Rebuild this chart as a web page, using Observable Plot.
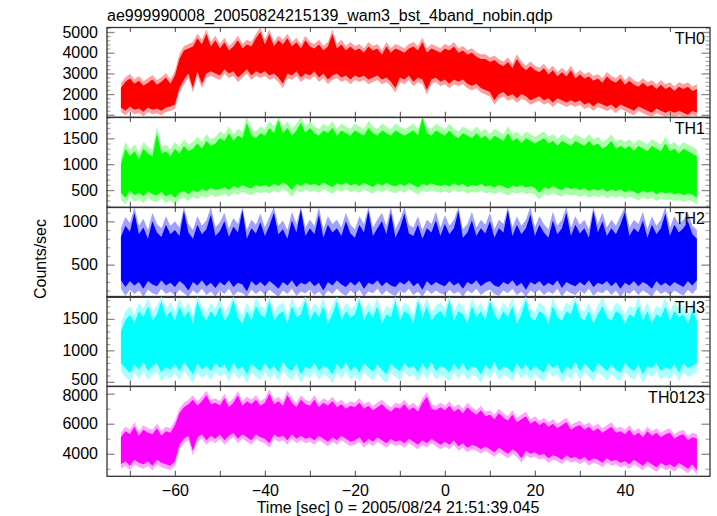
<!DOCTYPE html>
<html><head><meta charset="utf-8">
<script src="https://cdn.jsdelivr.net/npm/d3@7"></script>
<script src="https://cdn.jsdelivr.net/npm/@observablehq/plot@0.6"></script>
<style>
body{margin:0;background:#fff;font-family:"Liberation Sans",Arial,Helvetica,sans-serif;}
#chart{position:relative;width:717px;height:516px;overflow:hidden;background:#fff;}
.abs{position:absolute;white-space:nowrap;color:#000;font-size:16px;line-height:16px;}
#chart svg{position:absolute;left:0;overflow:visible;}
</style></head><body><div id="chart"></div>
<script>
const title = "ae999990008_20050824215139_wam3_bst_4band_nobin.qdp";
const xLabel = "Time [sec] 0 = 2005/08/24 21:51:39.045";
const yLabel = "Counts/sec";
const panelNames = ["TH0", "TH1", "TH2", "TH3", "TH0123"];
const colors = ["#ff0000", "#00ff00", "#0000ff", "#00ffff", "#ff00ff"];
const errColors = ["#ffa0a0", "#a8ffa8", "#a0a0ff", "#a8ffff", "#ffa4ff"];
const yDomains = [[904, 5241], [177, 1912], [128, 1166], [437, 1863], [2533, 8513]];
const yMajor = [[1000, 2000, 3000, 4000, 5000], [500, 1000, 1500], [500, 1000], [500, 1000, 1500], [4000, 6000, 8000]];
const yMinorStep = [200, 100, 100, 100, 1000];
const binErr = [220, 130, 100, 140, 300];
const xDomain = [-75.2, 58.8];
const xTicks = [-70, -60, -50, -40, -30, -20, -10, 0, 10, 20, 30, 40, 50];
const xLabels = [-60, -40, -20, 0, 20, 40];
const tStart = -72, tStep = 1;

const th0Hi = [2300,2600,2750,2500,2650,2400,2550,2700,2450,2600,2800,2500,
 2900,3700,4100,4200,4300,4700,4400,4900,4300,4600,
 4200,4500,4100,4300,4600,4200,4400,4300,4700,5000,
 4400,4900,4300,4600,4400,4700,4300,4500,4200,4600,
 4300,4200,4400,4100,4300,4900,4200,4400,4100,4300,
 4100,4200,4000,4300,4100,4200,3900,4300,4000,4200,
 4100,4000,4200,4300,4100,4500,4000,4200,4100,4000,
 4200,4100,4300,4000,4100,3900,4000,3800,3700,3700,
 3550,3650,3450,3350,3550,3250,3700,3350,3150,3350,
 3150,3050,3250,2950,3150,2850,3050,2850,3150,2750,
 2950,2750,2850,2650,2750,2550,2850,2650,2550,2750,
 2450,2650,2450,2350,2550,2350,2450,2250,2450,2250,
 2350,2150,2350,2250,2350,2150,2250];
const th0Lo = [1350,1200,1400,1250,1300,1150,1350,1250,1300,1200,1350,1400,
 1500,2300,2700,3000,2300,3100,2500,3000,3100,3000,
 2900,3200,3000,3100,2800,3000,3200,2900,3100,3000,
 3100,2900,3000,2800,2500,3000,2900,3100,2800,3000,
 2900,3100,2800,3000,2700,2900,3000,2800,2900,2700,
 2900,2800,2900,2700,2800,2900,2700,2800,2600,2300,
 2800,2700,2900,2600,2800,2700,2200,2700,2800,2600,
 2700,2500,2700,2600,2700,2500,2400,2500,2300,2200,
 2100,1700,2000,2100,1900,2000,1800,2000,1900,1700,
 1800,1900,1700,1800,1600,1800,1700,1600,1700,1600,
 1700,1500,1600,1400,1600,1500,1400,1500,1300,1500,
 1400,1300,1200,1400,1300,1200,1100,1300,1200,1100,
 1200,1100,1200,1100,1000,1200,1100];

const th1Hi = [1000,1300,1150,1250,1100,1300,1200,1150,1600,1200,1250,1150,
 1300,1200,1350,1250,1300,1400,1300,1450,1350,1400,
 1500,1450,1600,1450,1550,1500,1800,1550,1500,1600,
 1550,1700,1600,1850,1600,1700,1550,1650,1800,1600,
 1700,1600,1550,1650,1600,1700,1550,1650,1600,1550,
 1650,1600,1550,1700,1600,1550,1650,1600,1550,1650,
 1600,1550,1600,1650,1550,1900,1600,1550,1650,1600,
 1550,1650,1550,1500,1600,1550,1500,1600,1500,1550,
 1450,1550,1500,1450,1600,1450,1500,1400,1500,1450,
 1400,1450,1500,1400,1450,1350,1450,1400,1350,1450,
 1400,1350,1450,1350,1400,1300,1350,1450,1300,1350,
 1300,1350,1250,1350,1300,1250,1350,1300,1250,1400,
 1250,1300,1200,1300,1250,1200,1150];
const th1Lo = [450,350,500,400,450,380,480,420,400,470,380,430,
 350,450,480,420,500,460,520,480,540,500,
 520,560,500,580,540,600,560,530,600,570,
 600,560,620,580,650,600,500,620,580,640,
 600,620,580,650,600,560,630,600,650,590,
 620,580,640,600,560,630,590,640,600,570,
 620,580,640,600,550,620,590,630,600,580,
 610,570,630,590,620,560,600,580,620,570,
 590,550,600,570,530,590,560,600,550,580,
 540,450,560,520,580,530,500,560,520,540,
 500,540,480,520,490,530,470,510,480,520,
 460,500,470,430,490,450,480,420,470,440,
 460,420,450,400,440,410,350];

const th2Hi = [820,950,880,1100,850,930,800,1000,870,820,960,850,
 900,830,1120,870,800,960,850,910,1080,830,
 890,1000,820,940,870,1130,800,920,860,990,
 830,950,1100,850,910,800,1010,870,1140,830,
 920,850,1080,810,960,870,920,830,1000,860,
 810,960,870,1120,830,920,1000,850,1100,810,
 920,1090,860,830,960,800,920,870,1010,830,
 970,850,920,1120,810,870,1010,830,920,860,
 1000,810,920,870,1130,830,960,850,920,1080,
 830,960,870,810,1010,850,920,1100,830,960,
 860,920,810,1120,870,1000,830,920,850,960,
 1110,830,920,870,1010,810,960,850,920,1090,
 830,960,870,920,1000,850,800];
const th2Lo = [320,240,310,260,300,220,310,270,250,320,260,290,
 240,310,270,200,300,260,320,250,290,230,
 300,260,320,240,290,270,190,310,260,300,
 250,310,270,220,300,260,320,240,290,270,
 310,250,290,200,300,260,320,270,240,300,
 260,310,220,290,270,320,250,300,260,240,
 300,270,320,250,290,210,310,260,300,270,
 250,310,260,290,220,300,270,320,250,290,
 310,260,240,300,270,320,250,290,210,300,
 270,310,250,290,260,320,230,300,270,250,
 300,260,320,240,290,270,310,250,300,220,
 290,260,310,250,300,270,220,310,260,290,
 250,300,270,240,310,260,320];

const th3Hi = [1300,1480,1560,1430,1620,1520,1700,1470,1570,1780,1520,1620,
 1470,1700,1520,1620,1420,1780,1570,1470,1620,1520,
 1700,1470,1570,1800,1520,1420,1620,1470,1700,1570,
 1520,1780,1470,1570,1620,1420,1700,1520,1570,1800,
 1470,1620,1520,1700,1420,1570,1780,1470,1620,1520,
 1570,1800,1470,1620,1520,1700,1420,1570,1520,1780,
 1470,1620,1570,1420,1780,1520,1700,1470,1570,1620,
 1520,1800,1470,1620,1570,1420,1700,1520,1620,1470,
 1780,1570,1470,1620,1520,1700,1420,1570,1800,1520,
 1470,1620,1570,1420,1700,1520,1470,1620,1570,1780,
 1520,1470,1620,1420,1570,1700,1520,1470,1620,1570,
 1420,1570,1520,1700,1470,1620,1420,1570,1520,1700,
 1470,1620,1520,1570,1420,1620,1470];
const th3Lo = [800,720,640,780,690,820,670,750,800,650,740,690,
 780,670,820,720,620,790,700,760,670,800,
 720,780,650,810,690,750,620,790,720,670,
 800,690,760,650,820,720,670,790,620,750,
 700,800,670,760,720,620,790,690,820,670,
 750,650,800,720,670,780,690,620,790,720,
 670,800,720,760,650,790,690,820,670,750,
 720,650,790,690,800,670,750,720,620,780,
 690,820,670,750,720,650,800,690,780,670,
 760,690,650,800,720,780,620,750,690,820,
 670,790,720,650,800,740,670,780,690,650,
 800,720,670,780,620,760,720,800,670,740,
 690,780,650,800,720,750,800];

const th0123Hi = [5100,5500,5300,5800,5200,5600,5400,5300,5700,5200,5500,5400,
 5900,6700,7100,7300,7600,7200,7500,7900,7300,7400,
 7200,7700,7100,7400,7900,7200,7500,7300,7600,7200,
 7400,8000,7300,7500,7200,7900,7400,7100,7600,7300,
 7200,7600,7100,7400,7200,7500,7100,7300,7000,7200,
 7100,7400,7000,7200,6900,7100,7300,7000,6800,7100,
 7000,7300,6900,7100,6800,7400,7800,7000,6900,7100,
 6900,7200,6800,7000,6700,7100,6800,6600,6900,6500,
 6600,6300,6700,6400,6200,6600,6100,6300,6500,6000,
 6200,5900,6100,5800,6000,5700,5900,6100,5600,5800,
 5900,5600,5800,5500,5700,5400,5600,5800,5400,5500,
 5300,5600,5200,5400,5100,5500,5200,5400,5100,5300,
 5400,5000,5200,5300,4900,5100,5000];
const th0123Lo = [3300,3500,3200,3600,3400,3300,3500,3200,3600,3400,3300,3200,
 3500,4600,5000,5200,4200,5100,5300,4900,5200,5000,
 5300,4900,5200,5400,5000,5300,5100,4900,5300,5100,
 5000,4700,5300,5100,5200,4900,5300,5000,5200,5000,
 5100,4900,5200,5000,4800,5100,4900,5200,5000,4800,
 4900,5100,4700,5000,4800,5100,4900,4700,5000,4800,
 4900,4700,5000,4800,4600,4900,4700,5000,4800,4600,
 4800,4600,4900,4500,4700,4400,4600,4500,4300,4500,
 4300,4100,4400,4200,4000,4300,4100,3700,4200,4000,
 4100,3900,4000,3700,3900,3800,3600,3900,3700,3800,
 3600,3800,3500,3700,3600,3400,3700,3500,3600,3400,
 3500,3300,3600,3400,3200,3500,3300,3100,3400,3200,
 3300,3100,3400,3200,3000,3300,2900];

const series = [[th0Hi, th0Lo], [th1Hi, th1Lo], [th2Hi, th2Lo], [th3Hi, th3Lo], [th0123Hi, th0123Lo]];

const W = 717, ML = 106.5, MR = 7.5, PW = W - ML - MR;
const top0 = 27, bottom = 476, PH = (bottom - top0) / 5;
const fontFam = '"Liberation Sans", Arial, Helvetica, sans-serif';
const chart = document.getElementById("chart");
// small vertical nudges so the touching labels at the TH3/TH0123 seam do not collide
const labelNudge = [{}, {}, {}, {500: -2}, {8000: 2}];

function panel(i) {
  const [hi, lo] = series[i];
  const rows = hi.map((h, k) => ({t: tStart + k * tStep, hi: h, lo: lo[k]}));
  const last = i === 4;
  const mt = 2, mb = last ? 40 : 2;
  const [y0, y1] = yDomains[i];
  const st = yMinorStep[i];
  const minors = d3.range(Math.ceil(y0 / st) * st, y1, st).filter(v => !yMajor[i].includes(v));
  const plain = yMajor[i].filter(v => !(v in labelNudge[i]));
  const nudged = yMajor[i].filter(v => v in labelNudge[i]);
  const marks = [
    Plot.areaY(rows, {x: "t", y1: d => d.lo - binErr[i], y2: d => d.hi + binErr[i], fill: errColors[i], clip: true}),
    Plot.areaY(rows, {x: "t", y1: "lo", y2: "hi", fill: colors[i], clip: true}),
    Plot.tickY(yMajor[i], {y: d => d, stroke: "#8a8a8a", strokeWidth: 1.3, insetRight: PW - 8}),
    Plot.tickY(minors, {y: d => d, stroke: "#a8a8a8", strokeWidth: 1.2, insetRight: PW - 4}),
    Plot.tickY(yMajor[i], {y: d => d, stroke: "#8a8a8a", strokeWidth: 1.3, insetLeft: PW - 8}),
    Plot.tickY(minors, {y: d => d, stroke: "#a8a8a8", strokeWidth: 1.2, insetLeft: PW - 4}),
    Plot.tickX(xTicks, {x: d => d, stroke: "#666", strokeWidth: 1.2, insetTop: PH - 5}),
    Plot.tickX(xTicks, {x: d => d, stroke: "#666", strokeWidth: 1.2, insetBottom: PH - 5}),
    Plot.frame({stroke: "#333", strokeWidth: 1.3}),
    Plot.axisY(plain, {anchor: "left", tickSize: 0, tickPadding: 9, fontSize: 16, tickFormat: d3.format("d"), label: null}),
    ...nudged.map(v => Plot.axisY([v], {anchor: "left", tickSize: 0, tickPadding: 9, fontSize: 16, tickFormat: d3.format("d"), label: null, dy: labelNudge[i][v]})),
    Plot.axisX(last ? xLabels : [], {anchor: "bottom", tickSize: 0, tickPadding: 8, fontSize: 16, tickFormat: d3.format("d"), label: null}),
    Plot.text([panelNames[i]], {frameAnchor: "top-right", text: d => d, dx: -5, dy: 5, fontSize: 16, fill: "#000"})
  ];
  const svg = Plot.plot({
    width: W, height: PH + mt + mb,
    marginLeft: ML, marginRight: MR, marginTop: mt, marginBottom: mb,
    x: {domain: xDomain},
    y: {domain: yDomains[i], clamp: true},
    style: {fontFamily: fontFam, fontSize: "16px", color: "#000", background: "transparent", overflow: "visible"},
    marks
  });
  svg.style.top = (top0 + i * PH - mt) + "px";
  chart.appendChild(svg);
}
for (let i = 0; i < 5; i++) panel(i);

function addText(txt, css) {
  const d = document.createElement("div");
  d.className = "abs";
  d.textContent = txt;
  Object.assign(d.style, css);
  chart.appendChild(d);
}
addText(title, {left: "107px", top: "8px"});
addText(xLabel, {left: "398px", top: "500px", transform: "translateX(-50%)"});
addText(yLabel, {left: "41px", top: "259px", transform: "translate(-50%,-50%) rotate(-90deg)"});
</script></body></html>
